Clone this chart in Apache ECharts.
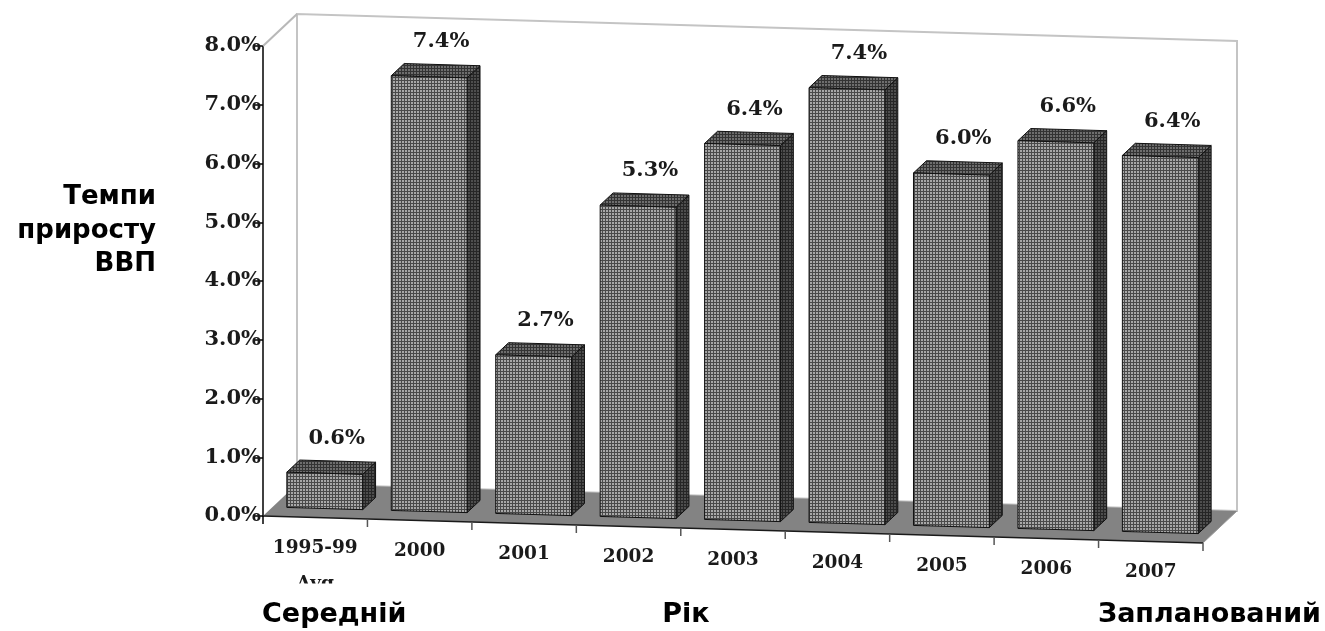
<!DOCTYPE html>
<html>
<head>
<meta charset="utf-8">
<script src="https://cdn.jsdelivr.net/npm/echarts@6/dist/echarts.min.js"></script>
<style>
  html, body { margin: 0; padding: 0; background: #ffffff; }
  #chart { width: 1325px; height: 631px; }
</style>
</head>
<body>
<div id="chart"></div>
<script>
// GDP growth by year, %
const categories = ['1995-99', '2000', '2001', '2002', '2003', '2004', '2005', '2006', '2007'];
const categoryNotes = ['Avg', '', '', '', '', '', '', '', ''];
const growth = [0.6, 7.4, 2.7, 5.3, 6.4, 7.4, 6.0, 6.6, 6.4];
const yMin = 0;
const yMax = 8;
const yStep = 1;
const yAxisTitle = 'Темпи\nприросту\nВВП';
const noteLeft = 'Середній';
const noteMiddle = 'Рік';
const noteRight = 'Запланований';

// Oblique 3D look: depth vector of the floor and the slant of the front edge
const DEPTH_X = 34;
const DEPTH_Y = -32;
const SLANT = 0.0287;
const BAR_FRONT = 0.28;   // depth where the bar front face sits
const BAR_BACK = 0.66;    // depth of the bar back face
const BAR_FILL = 0.726;   // share of the category band taken by a bar

const SERIF = '"DejaVu Serif", "Liberation Serif", serif';
const SANS = '"DejaVu Sans", Verdana, sans-serif';

// 3x3 tile: a light 2x2 dot framed by darker lines
function makePattern(light, dark) {
  const c = document.createElement('canvas');
  c.width = 3; c.height = 3;
  const g = c.getContext('2d');
  g.fillStyle = dark; g.fillRect(0, 0, 3, 3);
  g.fillStyle = light; g.fillRect(0, 0, 2, 2);
  return { image: c, repeat: 'repeat' };
}
const frontFill = makePattern('#a8a8a8', '#4a4a4a');
const topFill = makePattern('#6e6e6e', '#333333');
const sideFill = makePattern('#4e4e4e', '#262626');

const chart = echarts.init(document.getElementById('chart'), null, { renderer: 'canvas' });

// maps a point of the front plane (pixel coords from the axes) to the slanted view at a given depth
function makeProjector(originX) {
  return function (x, y, d) {
    return [x + d * DEPTH_X, y + SLANT * (x - originX) + d * DEPTH_Y];
  };
}

function renderFrame(params, api) {
  const n = categories.length;
  const bw = api.size([1, 0])[0];
  const x0 = api.coord([0, yMin])[0] - bw / 2;
  const x1 = api.coord([n - 1, yMin])[0] + bw / 2;
  const yb = api.coord([0, yMin])[1];
  const yt = api.coord([0, yMax])[1];
  const P = makeProjector(x0);
  const children = [];

  // back wall
  children.push({
    type: 'polygon',
    shape: { points: [P(x0, yb, 1), P(x0, yt, 1), P(x1, yt, 1), P(x1, yb, 1)] },
    style: { fill: '#ffffff', stroke: '#c4c4c4', lineWidth: 2 }
  });
  // left top edge joining the axis to the wall
  children.push({
    type: 'line',
    shape: { x1: P(x0, yt, 0)[0], y1: P(x0, yt, 0)[1], x2: P(x0, yt, 1)[0], y2: P(x0, yt, 1)[1] },
    style: { stroke: '#b8b8b8', lineWidth: 2 }
  });
  // floor
  children.push({
    type: 'polygon',
    shape: { points: [P(x0, yb, 0), P(x0, yb, 1), P(x1, yb, 1), P(x1, yb, 0)] },
    style: { fill: '#838383' }
  });
  // right edge of the floor
  const ra = P(x1, yb, 0), rb = P(x1, yb, 1);
  children.push({
    type: 'line',
    shape: { x1: ra[0], y1: ra[1], x2: rb[0], y2: rb[1] },
    style: { stroke: '#9a9a9a', lineWidth: 1 }
  });
  // front edge of the floor
  const fa = P(x0, yb, 0), fb = P(x1, yb, 0);
  children.push({
    type: 'line',
    shape: { x1: fa[0], y1: fa[1], x2: fb[0], y2: fb[1] },
    style: { stroke: '#1a1a1a', lineWidth: 1.5 }
  });
  // category ticks and labels
  for (let i = 0; i <= n; i++) {
    const p = P(x0 + i * bw, yb, 0);
    children.push({
      type: 'line',
      shape: { x1: p[0], y1: p[1], x2: p[0], y2: p[1] + 8 },
      style: { stroke: i === 0 ? '#000000' : '#555555', lineWidth: 1.5 }
    });
  }
  for (let i = 0; i < n; i++) {
    const xc = api.coord([i, yMin])[0];
    const p = P(xc, yb, 0);
    children.push({
      type: 'text',
      style: {
        x: p[0], y: p[1] + 31, text: categories[i],
        font: 'bold 18.5px ' + SERIF, fill: '#1a1a1a',
        align: 'center', verticalAlign: 'middle'
      }
    });
    if (categoryNotes[i]) {
      children.push({
        type: 'text',
        style: {
          x: p[0], y: p[1] + 67, text: categoryNotes[i],
          font: 'bold 18.5px ' + SERIF, fill: '#1a1a1a',
          align: 'center', verticalAlign: 'middle'
        }
      });
      // the second label line is cut off just below its top
      children.push({
        type: 'rect',
        shape: { x: p[0] - 40, y: p[1] + 66, width: 80, height: 10 },
        style: { fill: '#ffffff' }
      });
    }
  }
  return { type: 'group', children: children };
}

function renderBar(params, api) {
  const i = api.value(0);
  const v = api.value(1);
  const bw = api.size([1, 0])[0];
  const x0 = api.coord([0, yMin])[0] - bw / 2;
  const P = makeProjector(x0);
  const xc = api.coord([i, yMin])[0];
  const yb = api.coord([i, yMin])[1];
  const yt = api.coord([i, v])[1];
  const xl = xc - bw * BAR_FILL / 2;
  const xr = xc + bw * BAR_FILL / 2;
  const f = BAR_FRONT, b = BAR_BACK;
  const edge = { stroke: '#111111', lineWidth: 1, lineJoin: 'round' };

  const front = [P(xl, yb, f), P(xl, yt, f), P(xr, yt, f), P(xr, yb, f)];
  const top = [P(xl, yt, f), P(xl, yt, b), P(xr, yt, b), P(xr, yt, f)];
  const side = [P(xr, yt, f), P(xr, yt, b), P(xr, yb, b), P(xr, yb, f)];
  const lbl = P(xc, yt, b);

  return {
    type: 'group',
    children: [
      { type: 'polygon', shape: { points: side }, style: Object.assign({ fill: sideFill }, edge) },
      { type: 'polygon', shape: { points: top }, style: Object.assign({ fill: topFill }, edge) },
      { type: 'polygon', shape: { points: front }, style: Object.assign({ fill: frontFill }, edge) },
      {
        type: 'text',
        style: {
          x: lbl[0] - 1, y: lbl[1] - 23, text: v.toFixed(1) + '%',
          font: 'bold 21px ' + SERIF, fill: '#1a1a1a',
          align: 'center', verticalAlign: 'middle'
        }
      }
    ]
  };
}

chart.setOption({
  animation: false,
  backgroundColor: '#ffffff',
  grid: { left: 263, right: 122, top: 46, bottom: 115 },
  xAxis: {
    type: 'category',
    data: categories,
    show: false
  },
  yAxis: {
    type: 'value',
    min: yMin,
    max: yMax,
    interval: yStep,
    axisLine: { show: true, lineStyle: { color: '#000000', width: 1.5 } },
    axisTick: { show: true, length: 9, lineStyle: { color: '#000000', width: 1.5 } },
    splitLine: { show: false },
    axisLabel: {
      margin: 2,
      color: '#1a1a1a',
      fontFamily: SERIF,
      fontWeight: 'bold',
      fontSize: 21,
      formatter: function (val) { return val.toFixed(1) + '%'; }
    }
  },
  graphic: [
    {
      type: 'text', x: 156, y: 231,
      style: {
        text: yAxisTitle, font: 'bold 26px ' + SANS, fill: '#000000',
        align: 'right', verticalAlign: 'middle', lineHeight: 33.5
      }
    },
    {
      type: 'text', x: 262, y: 615,
      style: { text: noteLeft, font: 'bold 27px ' + SANS, fill: '#000000', align: 'left', verticalAlign: 'middle' }
    },
    {
      type: 'text', x: 686, y: 615,
      style: { text: noteMiddle, font: 'bold 27px ' + SANS, fill: '#000000', align: 'center', verticalAlign: 'middle' }
    },
    {
      type: 'text', x: 1321, y: 615,
      style: { text: noteRight, font: 'bold 27px ' + SANS, fill: '#000000', align: 'right', verticalAlign: 'middle' }
    }
  ],
  series: [
    {
      type: 'custom',
      coordinateSystem: 'cartesian2d',
      clip: false,
      z: 1,
      silent: true,
      data: [[0, 0]],
      renderItem: renderFrame
    },
    {
      type: 'custom',
      coordinateSystem: 'cartesian2d',
      clip: false,
      z: 3,
      silent: true,
      data: growth.map(function (v, i) { return [i, v]; }),
      renderItem: renderBar
    }
  ]
});
</script>
</body>
</html>
